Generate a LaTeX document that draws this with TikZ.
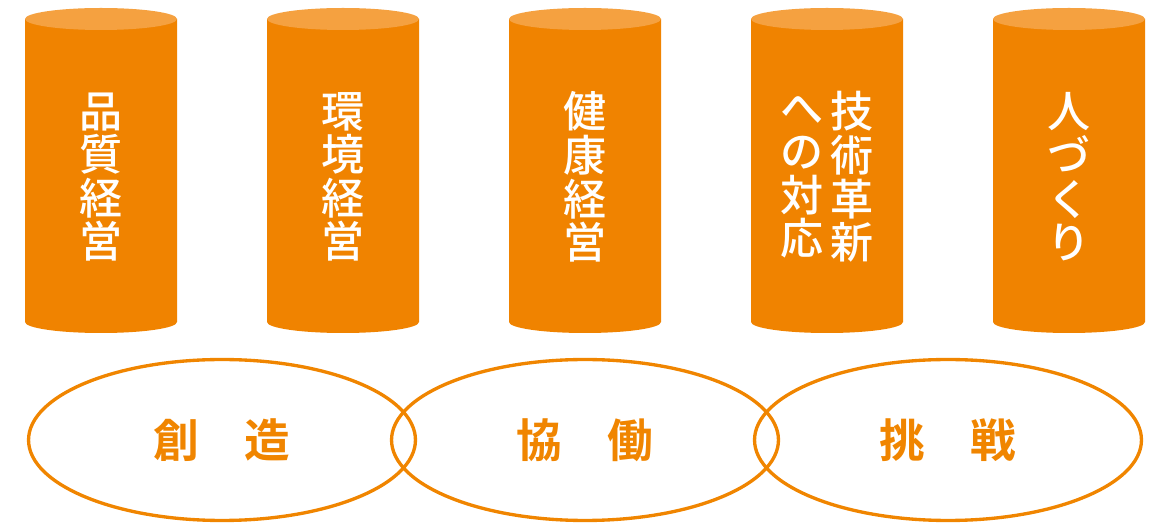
\documentclass[tikz,border=0pt]{standalone}
\usepackage{fontspec}
\newfontfamily\jpfont{Noto Sans CJK JP}[BoldFont={Noto Sans CJK JP Bold}]
\newfontfamily\jpmedium{Noto Sans CJK JP Medium}
\usetikzlibrary{shapes.geometric}
\definecolor{pillar}{RGB}{240,131,0}
\definecolor{pillartop}{RGB}{245,161,64}
\definecolor{ring}{RGB}{240,133,0}

\begin{document}
\begin{tikzpicture}[x=0.02cm,y=-0.02cm]

\tikzset{body/.style = {fill=pillar}}
\tikzset{lid/.style = {fill=pillartop}}
\tikzset{pillartext/.style = {text=white,align=center,inner sep=0pt,font=\jpmedium\fontsize{24.5}{24.8}\selectfont}}
\tikzset{value/.style = {shape=ellipse,draw=ring,line width=1.9pt,minimum width=7.74cm,minimum height=3.22cm,text=ring,font=\jpfont\bfseries\fontsize{26}{28}\selectfont}}

\useasboundingbox (0,0) rectangle (1157,523);

\foreach \cx/\name/\txt in {101/quality/{品\\質\\経\\営}, 343/environment/{環\\境\\経\\営}, 585/health/{健\\康\\経\\営}, 827/innovation/{}, 1069/people/{人\\づ\\く\\り}}{
\fill[body] (\cx-76,19) -- (\cx-76,322) arc[start angle=180,end angle=0,x radius=76,y radius=11] -- (\cx+76,19) -- cycle;
\fill[lid] (\cx,19) ellipse [x radius=76, y radius=11];
\node[pillartext] (\name) at (\cx,177) {\txt};
}

% two columns, read right to left
\node[pillartext] (innovationR) at (852,177) {技\\術\\革\\新};
\node[pillartext] (innovationL) at (802,177) {へ\\の\\対\\応};

\foreach \pos/\name/\txt in {{(222,440)/create/創　造}, {(585,440)/cooperate/協　働}, {(948,440)/challenge/挑　戦}}
\node[value] (\name) at \pos {\txt};

\end{tikzpicture}
\end{document}
